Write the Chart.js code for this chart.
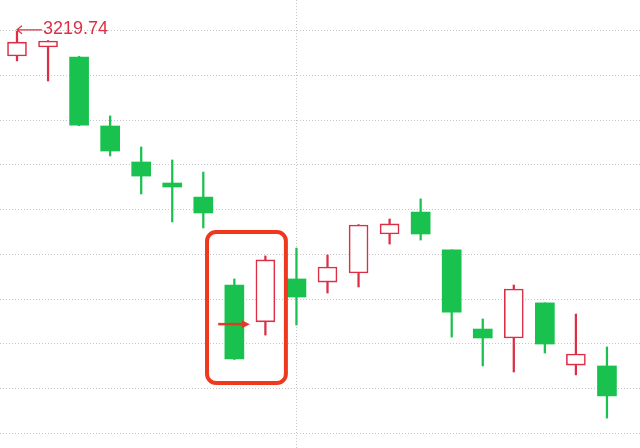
<!DOCTYPE html>
<html>
<head>
<meta charset="utf-8">
<script src="https://cdn.jsdelivr.net/npm/chart.js@4.4.1/dist/chart.umd.min.js"></script>
<style>
  html, body { margin: 0; padding: 0; background: #fff; }
  #wrap { width: 640px; height: 448px; position: relative; }
</style>
</head>
<body>
<div id="wrap"><canvas id="kChart"></canvas></div>
<script>
// K线数据
const opens  = [3208.7, 3212.7, 3208.2, 3177.4, 3161.3, 3151.9, 3145.6, 3106.3, 3089.8, 3109.0,
                3107.6, 3111.7, 3129.1, 3138.9, 3122.0, 3086.6, 3082.6, 3098.3, 3070.5, 3070.1];
const closes = [3214.9, 3215.4, 3177.8, 3166.2, 3155.0, 3150.1, 3138.5, 3073.2, 3117.5, 3100.9,
                3114.3, 3133.1, 3133.6, 3129.1, 3094.2, 3082.6, 3104.5, 3079.9, 3075.4, 3056.7];
const highs  = [3219.74, 3215.6, 3208.5, 3181.9, 3168.0, 3162.2, 3156.8, 3109.0, 3119.3, 3122.8,
                3119.7, 3133.3, 3135.8, 3144.8, 3122.0, 3091.1, 3106.3, 3098.3, 3093.3, 3078.6];
const lows   = [3206.5, 3197.5, 3177.5, 3164.0, 3147.0, 3134.5, 3131.8, 3073.0, 3083.9, 3088.4,
                3102.7, 3105.4, 3124.6, 3126.4, 3083.0, 3070.1, 3067.4, 3075.9, 3066.1, 3046.8];
const gridValues = [3220, 3200, 3180, 3160, 3140, 3120, 3100, 3080, 3060, 3040];
const markerIndex = 9;           // 竖向虚线所在的K线

const RED = '#dc2f45';
const GREEN = '#19c14f';

const idx = opens.map((_, i) => i);
const isUp = idx.map(i => closes[i] >= opens[i]);

const bodies = idx.map(i => ({ x: i, y: [Math.min(opens[i], closes[i]), Math.max(opens[i], closes[i])] }));
const wicks = idx.map(i => ({ x: i, y: [lows[i], highs[i]] }));

const maxHigh = Math.max(...highs);
const maxIdx = highs.indexOf(maxHigh);

// 标注：最高价、红框、箭头
const notePlugin = {
    id: 'notes',
    afterDatasetsDraw(chart) {
        const { ctx, scales: { x, y } } = chart;
        ctx.save();

        // 最高价标签
        const hx = x.getPixelForValue(maxIdx);
        const hy = y.getPixelForValue(maxHigh) - 1.5;
        ctx.strokeStyle = RED;
        ctx.fillStyle = RED;
        ctx.lineWidth = 1.2;
        ctx.beginPath();
        ctx.moveTo(hx, hy);
        ctx.lineTo(hx + 25, hy);
        ctx.moveTo(hx + 5, hy - 4);
        ctx.lineTo(hx, hy);
        ctx.lineTo(hx + 5, hy + 4);
        ctx.stroke();
        ctx.font = '18px "Liberation Sans", Arial, sans-serif';
        ctx.textBaseline = 'middle';
        ctx.fillText(maxHigh.toFixed(2), hx + 26, hy - 1);

        // 红框
        const bx1 = x.getPixelForValue(6.12), bx2 = x.getPixelForValue(8.66);
        const by1 = y.getPixelForValue(3130.0), by2 = y.getPixelForValue(3062.5);
        ctx.strokeStyle = '#f0381f';
        ctx.lineWidth = 4;
        ctx.beginPath();
        ctx.roundRect(bx1, by1, bx2 - bx1, by2 - by1, 9);
        ctx.stroke();

        // 箭头
        const ay = y.getPixelForValue(3088.8);
        const ax1 = x.getPixelForValue(6.48), ax2 = x.getPixelForValue(7.5);
        ctx.strokeStyle = '#e23a26';
        ctx.fillStyle = '#e23a26';
        ctx.lineWidth = 2.5;
        ctx.beginPath();
        ctx.moveTo(ax1, ay);
        ctx.lineTo(ax2 - 6, ay);
        ctx.stroke();
        ctx.beginPath();
        ctx.moveTo(ax2, ay);
        ctx.lineTo(ax2 - 8, ay - 4);
        ctx.lineTo(ax2 - 8, ay + 4);
        ctx.closePath();
        ctx.fill();

        ctx.restore();
    }
};

new Chart(document.getElementById('kChart'), {
    type: 'bar',
    data: {
        datasets: [
            {
                label: 'body',
                data: bodies,
                grouped: false,
                barThickness: 19,
                backgroundColor: idx.map(i => isUp[i] ? '#ffffff' : GREEN),
                borderColor: idx.map(i => isUp[i] ? RED : GREEN),
                borderWidth: idx.map(i => isUp[i] ? 1.6 : 0),
                borderSkipped: false
            },
            {
                label: 'wick',
                data: wicks,
                grouped: false,
                barThickness: 1.6,
                backgroundColor: idx.map(i => isUp[i] ? RED : GREEN),
                borderWidth: 0
            }
        ]
    },
    options: {
        responsive: true,
        maintainAspectRatio: false,
        animation: false,
        layout: { padding: 0 },
        plugins: { legend: { display: false }, tooltip: { enabled: false } },
        scales: {
            x: {
                type: 'linear',
                offset: false,
                min: -17 / 31.05,
                max: (640 - 17) / 31.05,
                afterBuildTicks: axis => { axis.ticks = [{ value: markerIndex }]; },
                ticks: { display: false },
                border: { display: false, dash: [1, 2] },
                grid: { color: '#c4c4c4', drawTicks: false, lineWidth: 1, offset: false }
            },
            y: {
                min: 3220 - (448 - 30.7) * 20 / 44.73,
                max: 3220 + 30.7 * 20 / 44.73,
                afterBuildTicks: axis => { axis.ticks = gridValues.map(v => ({ value: v })); },
                ticks: { display: false },
                border: { display: false, dash: [1, 2] },
                grid: { color: '#c4c4c4', drawTicks: false, lineWidth: 1 }
            }
        }
    },
    plugins: [notePlugin]
});
</script>
</body>
</html>
